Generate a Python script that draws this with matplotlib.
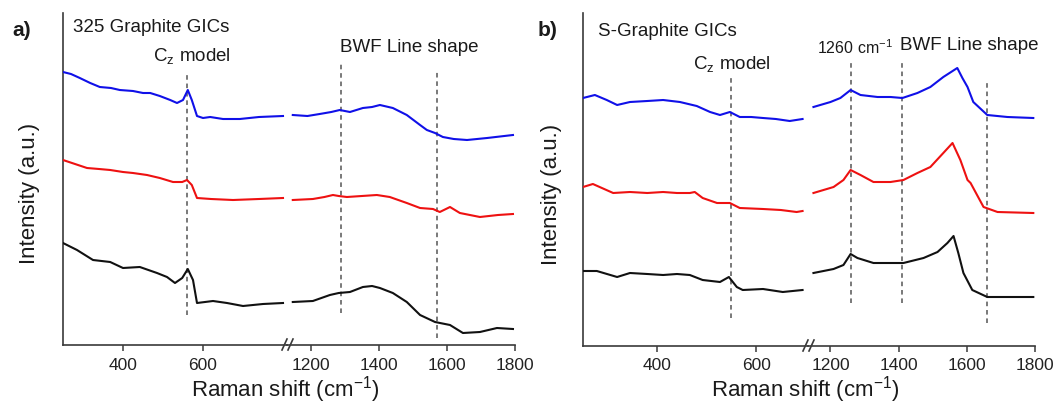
import matplotlib
matplotlib.use('Agg')
from matplotlib import pyplot as plt
from matplotlib.lines import Line2D

plt.rcParams['font.family'] = ['Liberation Sans', 'DejaVu Sans']
plt.rcParams['mathtext.fontset'] = 'custom'
plt.rcParams['mathtext.rm'] = 'Liberation Sans'

# ---- panel a) 325 Graphite GICs : low / high wavenumber segments
a_blue_lo_x = [250, 270, 292, 318, 342, 370, 392, 425, 450, 468, 492, 518, 535, 550, 562, 572, 585, 600, 618, 650, 692, 740, 800]
a_blue_lo_y = [273, 271, 267, 262, 258, 257, 255, 254, 252, 252, 249, 245, 242, 245, 255, 245, 229, 227, 228, 226, 226, 228, 229]
a_blue_hi_x = [1147, 1190, 1226, 1260, 1285, 1315, 1353, 1380, 1403, 1441, 1482, 1521, 1541, 1565, 1588, 1620, 1659, 1718, 1794]
a_blue_hi_y = [230, 229, 231, 233, 235, 233, 237, 238, 240, 237, 230, 220, 215, 212, 208, 206, 205, 207, 210]

a_red_lo_x = [250, 280, 310, 340, 368, 400, 425, 460, 492, 525, 548, 560, 572, 585, 620, 675, 740, 800]
a_red_lo_y = [185, 181, 177, 176, 175, 173, 172, 170, 167, 163, 163, 165, 160, 147, 146, 145, 146, 147]
a_red_hi_x = [1147, 1206, 1240, 1265, 1282, 1306, 1350, 1394, 1432, 1482, 1521, 1559, 1579, 1609, 1638, 1697, 1750, 1794]
a_red_hi_y = [145, 146, 148, 150, 149, 148, 149, 150, 148, 142, 137, 136, 133, 138, 132, 128, 130, 131]

a_black_lo_x = [250, 285, 325, 368, 400, 442, 485, 510, 530, 548, 562, 575, 585, 625, 660, 700, 750, 800]
a_black_lo_y = [102, 95, 85, 83, 77, 78, 72, 68, 62, 67, 76, 65, 42, 44, 42, 39, 41, 42]
a_black_hi_x = [1147, 1206, 1256, 1282, 1315, 1353, 1380, 1403, 1441, 1482, 1521, 1565, 1609, 1647, 1697, 1747, 1794]
a_black_hi_y = [43, 44, 50, 52, 53, 58, 59, 57, 52, 43, 30, 23, 20, 12, 13, 17, 16]

# ---- panel b) S-Graphite GICs
b_blue_lo_x = [250, 274, 298, 319, 345, 380, 412, 446, 480, 507, 527, 547, 567, 590, 614, 640, 668, 694]
b_blue_lo_y = [248, 251, 246, 241, 244, 245, 246, 244, 240, 234, 231, 234, 229, 229, 228, 227, 225, 227]
b_blue_hi_x = [1150, 1200, 1229, 1259, 1288, 1338, 1376, 1411, 1455, 1493, 1531, 1572, 1587, 1602, 1619, 1660, 1719, 1795]
b_blue_hi_y = [239, 244, 248, 256, 251, 249, 249, 248, 253, 259, 269, 278, 268, 259, 244, 231, 229, 228]

b_red_lo_x = [250, 270, 311, 345, 380, 412, 440, 466, 476, 492, 521, 547, 567, 614, 650, 682, 694]
b_red_lo_y = [159, 162, 153, 154, 153, 154, 153, 153, 154, 148, 143, 143, 138, 137, 136, 134, 135]
b_red_hi_x = [1150, 1209, 1238, 1259, 1288, 1326, 1376, 1414, 1455, 1493, 1531, 1558, 1581, 1602, 1611, 1649, 1690, 1795]
b_red_hi_y = [153, 159, 166, 176, 171, 164, 164, 166, 173, 179, 193, 203, 186, 166, 163, 139, 134, 133]

b_black_lo_x = [250, 278, 319, 345, 380, 412, 440, 466, 492, 527, 545, 561, 573, 614, 654, 694]
b_black_lo_y = [75, 75, 69, 73, 72, 71, 72, 71, 66, 64, 69, 59, 56, 57, 54, 56]
b_black_hi_x = [1150, 1209, 1238, 1259, 1279, 1326, 1376, 1414, 1473, 1514, 1543, 1561, 1575, 1590, 1616, 1660, 1719, 1795]
b_black_hi_y = [73, 77, 81, 92, 88, 83, 83, 83, 88, 94, 103, 110, 93, 73, 56, 49, 49, 49]

lo_ticks = [400, 600]
hi_ticks = [1200, 1400, 1600, 1800]

W, H = 1054, 407
BLUE, RED, BLACK = '#1010e8', '#ee1111', '#111111'
SPINE = '#3a3a3a'
DASH = '#555555'


def fx(px):
    return px / W


def fy(py):
    return 1 - py / H


def make_axes(fig, left, brk, right, bottom, top, lo_lim, hi_lim):
    ax_lo = fig.add_axes([fx(left), fy(bottom), fx(brk) - fx(left), fy(top) - fy(bottom)])
    ax_hi = fig.add_axes([fx(brk), fy(bottom), fx(right) - fx(brk), fy(top) - fy(bottom)])
    for ax in (ax_lo, ax_hi):
        ax.set_ylim(0, bottom - top)
        ax.set_facecolor('none')
        for s in ('top', 'right'):
            ax.spines[s].set_visible(False)
        ax.spines['bottom'].set_color(SPINE)
        ax.spines['bottom'].set_linewidth(1.2)
        ax.tick_params(axis='x', direction='out', length=4, width=1.1, color=SPINE,
                       labelsize=12.5, pad=5, labelcolor='#222222')
        ax.tick_params(axis='y', left=False, labelleft=False)
    ax_lo.spines['left'].set_color(SPINE)
    ax_lo.spines['left'].set_linewidth(1.2)
    ax_hi.spines['left'].set_visible(False)
    ax_lo.set_xlim(*lo_lim)
    ax_hi.set_xlim(*hi_lim)
    ax_lo.set_xticks(lo_ticks)
    ax_hi.set_xticks(hi_ticks)
    # break marks "//"
    for dx in (-5, 1):
        x0 = brk + dx
        fig.add_artist(Line2D([fx(x0), fx(x0 + 5)], [fy(bottom + 5), fy(bottom - 6)],
                              color=SPINE, lw=1.2))
    return ax_lo, ax_hi


def vdash(ax, x, y0, y1):
    ax.plot([x, x], [y0, y1], color=DASH, lw=1.1, ls=(0, (3, 2.5)), zorder=1)


fig = plt.figure(figsize=(W / 100, H / 100), dpi=100)

# panel a
a_lo, a_hi = make_axes(fig, 63, 287, 515, 345, 13, (250, 810), (1130, 1800))
for ax, xs, ys, c in [(a_lo, a_blue_lo_x, a_blue_lo_y, BLUE), (a_hi, a_blue_hi_x, a_blue_hi_y, BLUE),
                      (a_lo, a_red_lo_x, a_red_lo_y, RED), (a_hi, a_red_hi_x, a_red_hi_y, RED),
                      (a_lo, a_black_lo_x, a_black_lo_y, BLACK), (a_hi, a_black_hi_x, a_black_hi_y, BLACK)]:
    ax.plot(xs, ys, color=c, lw=1.5, zorder=3)
vdash(a_lo, 560, 30, 272)
vdash(a_hi, 1290, 32, 282)
vdash(a_hi, 1570, 7, 273)

# panel b
b_lo, b_hi = make_axes(fig, 583, 808, 1035, 346, 13, (250, 705), (1134, 1800))
for ax, xs, ys, c in [(b_lo, b_blue_lo_x, b_blue_lo_y, BLUE), (b_hi, b_blue_hi_x, b_blue_hi_y, BLUE),
                      (b_lo, b_red_lo_x, b_red_lo_y, RED), (b_hi, b_red_hi_x, b_red_hi_y, RED),
                      (b_lo, b_black_lo_x, b_black_lo_y, BLACK), (b_hi, b_black_hi_x, b_black_hi_y, BLACK)]:
    ax.plot(xs, ys, color=c, lw=1.5, zorder=3)
vdash(b_lo, 550, 28, 269)
vdash(b_hi, 1260, 43, 286)
vdash(b_hi, 1410, 43, 286)
vdash(b_hi, 1660, 23, 266)

# texts
txt = dict(color='#1a1a1a')
fig.text(fx(12), fy(30), 'a)', fontsize=15, fontweight='bold', va='center', ha='left', **txt)
fig.text(fx(538), fy(30), 'b)', fontsize=15, fontweight='bold', va='center', ha='left', **txt)
fig.text(fx(73), fy(28), '325 Graphite GICs', fontsize=13.5, va='center', ha='left', **txt)
fig.text(fx(598), fy(31), 'S-Graphite GICs', fontsize=13.5, va='center', ha='left', **txt)
cz = r'C$_{\mathregular{z}}$ model'
fig.text(fx(192), fy(57), cz, fontsize=13.5, va='center', ha='center', **txt)
fig.text(fx(732), fy(65), cz, fontsize=13.5, va='center', ha='center', **txt)
fig.text(fx(409), fy(48), 'BWF Line shape', fontsize=13.5, va='center', ha='center', **txt)
fig.text(fx(969), fy(46), 'BWF Line shape', fontsize=13.5, va='center', ha='center', **txt)
fig.text(fx(855), fy(48), r'1260 cm$^{\mathregular{-1}}$', fontsize=11.5, va='center', ha='center', **txt)

xl = r'Raman shift (cm$^{\mathregular{-1}}$)'
fig.text(fx(285), fy(390), xl, fontsize=16, va='center', ha='center', **txt)
fig.text(fx(805), fy(390), xl, fontsize=16, va='center', ha='center', **txt)
fig.text(fx(30), fy(193), 'Intensity (a.u.)', fontsize=16, rotation=90, va='center', ha='center', **txt)
fig.text(fx(551), fy(194), 'Intensity (a.u.)', fontsize=16, rotation=90, va='center', ha='center', **txt)

fig.savefig('out.png', dpi=100)
